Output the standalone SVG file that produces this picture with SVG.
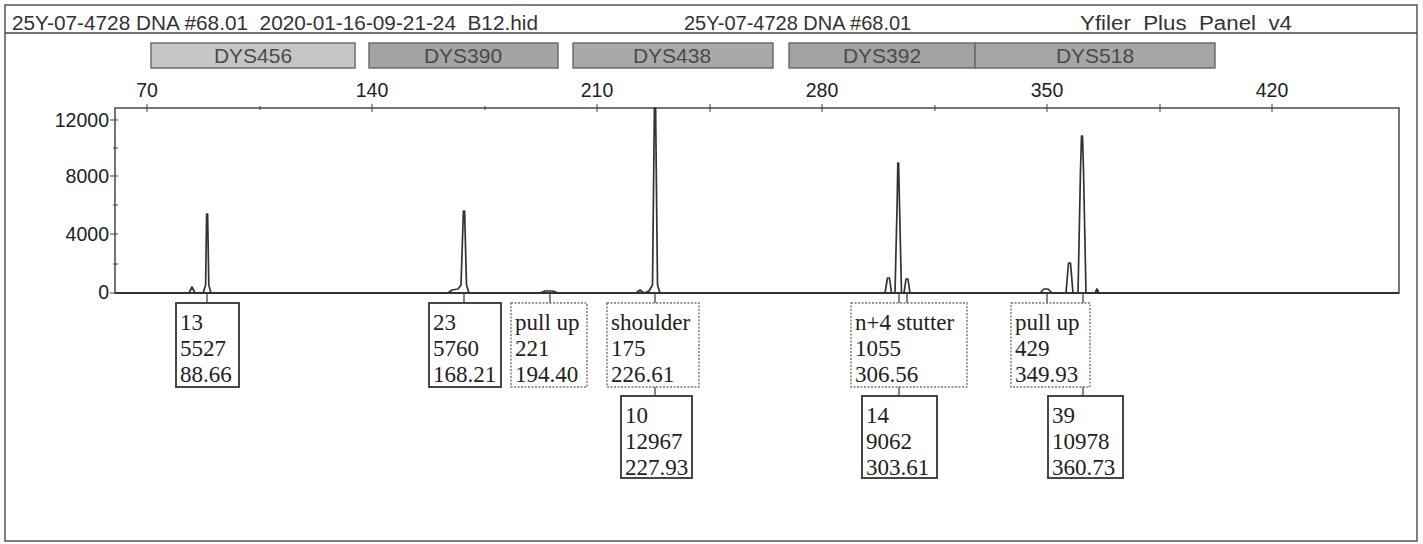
<svg xmlns="http://www.w3.org/2000/svg" width="1423" height="544" viewBox="0 0 1423 544">
<style>
.hdr{font-family:"Liberation Sans",Arial,sans-serif;font-size:20px;fill:#333}
.mk{font-family:"Liberation Sans",Arial,sans-serif;font-size:21px;fill:#4a4a4a;text-anchor:middle}
.ax{font-family:"Liberation Sans",Arial,sans-serif;font-size:19.5px;fill:#222}
.lbl{font-family:"Liberation Serif","Times New Roman",serif;font-size:23px;fill:#222}
.bs{fill:#fff;stroke:#333;stroke-width:1.8}
.bd{fill:#fff;stroke:#777;stroke-width:1.4;stroke-dasharray:2 1.5}
.bar{stroke:#666;stroke-width:1.4}
.pk{fill:none;stroke:#333;stroke-width:1.7;stroke-linejoin:round}
.cn{stroke:#444;stroke-width:1.3}
</style>
<rect width="1423" height="544" fill="#fff"/>
<g id="frame">
<rect x="5" y="5" width="1412" height="536" fill="none" stroke="#555" stroke-width="1.5"/>
<line x1="5" y1="33" x2="1417" y2="33" stroke="#444" stroke-width="1.5"/>
<text class="hdr" x="12" y="30" textLength="526" lengthAdjust="spacingAndGlyphs" xml:space="preserve">25Y-07-4728 DNA #68.01  2020-01-16-09-21-24  B12.hid</text>
<text class="hdr" x="684" y="30">25Y-07-4728 DNA #68.01</text>
<text class="hdr" x="1080" y="30" textLength="212" lengthAdjust="spacingAndGlyphs" xml:space="preserve">Yfiler  Plus  Panel  v4</text>
</g>
<g id="markers">
<rect class="bar" x="151" y="43" width="204" height="25" fill="#c6c6c6"/>
<text class="mk" x="253" y="63">DYS456</text>
<rect class="bar" x="369" y="43" width="189" height="25" fill="#a4a4a4"/>
<text class="mk" x="463" y="63">DYS390</text>
<rect class="bar" x="573" y="43" width="200" height="25" fill="#a9a9a9"/>
<text class="mk" x="672" y="63">DYS438</text>
<rect class="bar" x="789" y="43" width="186" height="25" fill="#a2a2a2"/>
<text class="mk" x="882" y="63">DYS392</text>
<rect class="bar" x="975" y="43" width="240" height="25" fill="#a6a6a6"/>
<text class="mk" x="1095" y="63">DYS518</text>
</g>
<g id="axes">
<rect x="115" y="108" width="1284" height="185" fill="none" stroke="#666" stroke-width="1.8"/>
<line x1="115" y1="293" x2="1399" y2="293" stroke="#333" stroke-width="2"/>
<g stroke="#444" stroke-width="1">
<line x1="147" y1="104" x2="147" y2="112"/><line x1="372" y1="104" x2="372" y2="112"/><line x1="597" y1="104" x2="597" y2="112"/><line x1="822" y1="104" x2="822" y2="112"/><line x1="1047" y1="104" x2="1047" y2="112"/><line x1="1272" y1="104" x2="1272" y2="112"/>
<line x1="260" y1="106" x2="260" y2="110"/><line x1="485" y1="106" x2="485" y2="110"/><line x1="710" y1="104" x2="710" y2="112"/><line x1="935" y1="105" x2="935" y2="111"/><line x1="1160" y1="104" x2="1160" y2="112"/>
<line x1="110" y1="120" x2="118" y2="120"/><line x1="110" y1="176" x2="118" y2="176"/><line x1="110" y1="234" x2="118" y2="234"/><line x1="110" y1="293" x2="115" y2="293"/>
<line x1="113" y1="148" x2="118" y2="148"/><line x1="113" y1="205" x2="118" y2="205"/><line x1="113" y1="264" x2="118" y2="264"/>
</g>
<g class="ax" text-anchor="middle">
<text x="147" y="97">70</text><text x="372" y="97">140</text><text x="597" y="97">210</text><text x="822" y="97">280</text><text x="1047" y="97">350</text><text x="1272" y="97">420</text>
</g>
<g class="ax" text-anchor="end">
<text x="109" y="127">12000</text><text x="109" y="183">8000</text><text x="109" y="241">4000</text><text x="109" y="299">0</text>
</g>
</g>
<g id="trace">
<path class="pk" d="M115 293 L189 293 L192 287 L195 293 L203 293 L205.6 285 L206.6 214 L207.6 214 L208.8 285 L211 293 L448 293 L452 290 L458 289 L461 285 L463.4 211 L464.6 211 L466.5 285 L469 293 L540 293 L545 291 L553 291 L558 293 L636 293 L640 290 L644 293 L649 291 L652.5 285 L654.4 108 L655.6 108 L657.5 285 L660 293 L885 293 L887.5 278 L889.5 278 L891.5 293 L895 293 L897.2 200 L897.8 163 L898.6 163 L899.4 200 L901.5 293 L904 293 L906 279 L908 279 L910 293 L1040 293 L1044 289 L1048 289 L1052 293 L1066 293 L1068.5 263 L1070.5 263 L1073 293 L1078 293 L1080.5 170 L1081.5 136 L1082.5 136 L1083.5 170 L1086 293 L1095 293 L1097 289 L1099 293 L1399 293"/>
</g>
<g id="connectors" class="cn">
<line x1="207" y1="293" x2="207" y2="303"/>
<line x1="464" y1="293" x2="464" y2="303"/>
<line x1="550" y1="293" x2="550" y2="303"/>
<line x1="655" y1="293" x2="655" y2="303"/>
<line x1="899" y1="293" x2="899" y2="303"/>
<line x1="907" y1="293" x2="907" y2="303"/>
<line x1="1047" y1="293" x2="1047" y2="303"/>
<line x1="1083" y1="293" x2="1083" y2="303"/>
<line x1="655" y1="387" x2="655" y2="396"/>
<line x1="899" y1="387" x2="899" y2="396"/>
<line x1="1083" y1="387" x2="1083" y2="396"/>
</g>
<g id="n1"><rect class="bs" x="176" y="303" width="63" height="84"/><text class="lbl" x="180" y="330">13</text><text class="lbl" x="180" y="356">5527</text><text class="lbl" x="180" y="382">88.66</text></g>
<g id="n2"><rect class="bs" x="429" y="303" width="72" height="84"/><text class="lbl" x="433" y="330">23</text><text class="lbl" x="433" y="356">5760</text><text class="lbl" x="433" y="382">168.21</text></g>
<g id="n3"><rect class="bd" x="511" y="303" width="76" height="84"/><text class="lbl" x="515" y="330">pull up</text><text class="lbl" x="515" y="356">221</text><text class="lbl" x="515" y="382">194.40</text></g>
<g id="n4"><rect class="bd" x="607" y="303" width="92" height="84"/><text class="lbl" x="611" y="330">shoulder</text><text class="lbl" x="611" y="356">175</text><text class="lbl" x="611" y="382">226.61</text></g>
<g id="n5"><rect class="bs" x="621" y="396" width="71" height="82"/><text class="lbl" x="625" y="423">10</text><text class="lbl" x="625" y="449">12967</text><text class="lbl" x="625" y="475">227.93</text></g>
<g id="n6"><rect class="bd" x="851" y="303" width="116" height="84"/><text class="lbl" x="855" y="330">n+4 stutter</text><text class="lbl" x="855" y="356">1055</text><text class="lbl" x="855" y="382">306.56</text></g>
<g id="n7"><rect class="bs" x="862" y="396" width="75" height="82"/><text class="lbl" x="866" y="423">14</text><text class="lbl" x="866" y="449">9062</text><text class="lbl" x="866" y="475">303.61</text></g>
<g id="n8"><rect class="bd" x="1011" y="303" width="79" height="84"/><text class="lbl" x="1015" y="330">pull up</text><text class="lbl" x="1015" y="356">429</text><text class="lbl" x="1015" y="382">349.93</text></g>
<g id="n9"><rect class="bs" x="1048" y="396" width="75" height="82"/><text class="lbl" x="1052" y="423">39</text><text class="lbl" x="1052" y="449">10978</text><text class="lbl" x="1052" y="475">360.73</text></g>
</svg>
